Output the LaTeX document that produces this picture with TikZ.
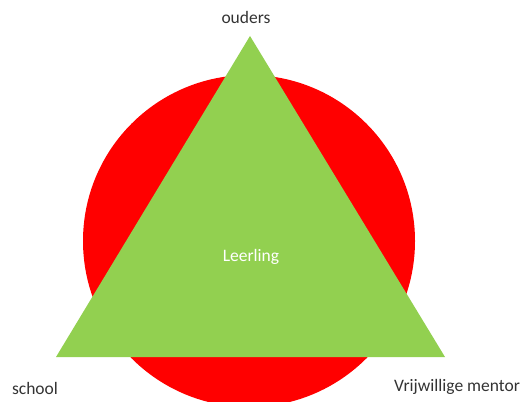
\documentclass[tikz,border=0pt]{standalone}
\usepackage{fontspec}
\setmainfont{Carlito}
\usetikzlibrary{positioning}
\definecolor{ringred}{HTML}{FF0000}
\definecolor{leafgreen}{HTML}{92D050}
\tikzset{
  role label/.style={
    font=\fontsize{17.5}{20}\selectfont, % label font
    text=black!80,
    inner sep=1pt
  },
  pupil label/.style={
    role label,
    text=white
  }
}

\begin{document}
\begin{tikzpicture}[x=1pt, y=1pt]
    % Frame
    \useasboundingbox (0,0) rectangle (529,401);
    \clip (0,0) rectangle (529,401);

    % Circle behind
    \fill[ringred] (249,160) circle (166);

    % Triangle corners
    \coordinate (top) at (250,365);
    \coordinate (left) at (56,44);
    \coordinate (right) at (445,44);
    \fill[leafgreen] (top) -- (left) -- (right) -- cycle;

    % Labels
    \node[role label] (ouders) at (246,384) {ouders};
    \node[role label] (school) at (35,13) {school};
    \node[role label] (mentor) at (457,14) {Vrijwillige mentor};
    \node[pupil label] (leerling) at (251,144) {Leerling};
\end{tikzpicture}
\end{document}
